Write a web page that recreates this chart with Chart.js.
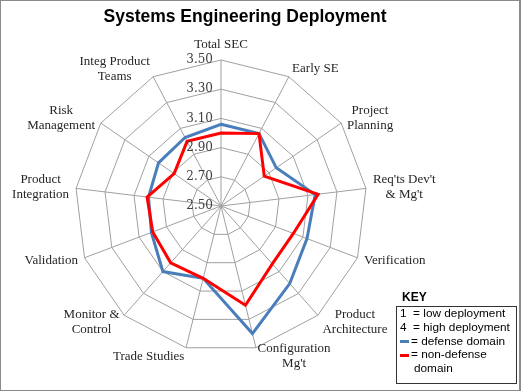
<!DOCTYPE html>
<html>
<head>
<meta charset="utf-8">
<script src="https://cdn.jsdelivr.net/npm/chart.js@4/dist/chart.umd.min.js"></script>
<style>
  body { margin: 0; background: #fff; }
  #frame { position: relative; width: 521px; height: 391px; box-sizing: border-box; border: 1px solid #8a8a8a; border-right-width: 2px; overflow: hidden; background: #fff; }
  #chartBox { position: absolute; left: 0; top: 0; width: 518px; height: 389px; }
  #title { position: absolute; left: 0; width: 488px; top: 5px; text-align: center; font: bold 17.5px "Liberation Sans", Arial, sans-serif; color: #000; }
  #keyTitle { position: absolute; left: 401px; top: 289px; font: bold 12px "Liberation Sans", Arial, sans-serif; color: #000; }
  #key { position: absolute; left: 395px; top: 305px; width: 121px; height: 78px; box-sizing: border-box; border: 1px solid #333; padding: 0 0 0 3px; font: 11.8px "Liberation Sans", Arial, sans-serif; color: #000; line-height: 13.8px; white-space: nowrap; }
  .sw { display: inline-block; width: 9px; height: 3px; vertical-align: middle; margin-right: 2px; }
</style>
</head>
<body>
<div id="frame">
  <div id="chartBox"><canvas id="radar"></canvas></div>
  <div id="title">Systems Engineering Deployment</div>
  <div id="keyTitle">KEY</div>
  <div id="key">
    <div>1&nbsp; = low deployment</div>
    <div>4&nbsp; = high deployment</div>
    <div><span class="sw" style="background:#4a7ebb"></span>= defense domain</div>
    <div><span class="sw" style="background:#ff0000"></span>= non-defense</div>
    <div style="padding-left:14px">domain</div>
  </div>
</div>
<script>
const categories = [
  "Total SEC",
  "Early SE",
  ["Project", "Planning"],
  ["Req'ts Dev't", "& Mg't"],
  "Verification",
  ["Product", "Architecture"],
  ["Configuration", "Mg't"],
  "Trade Studies",
  ["Monitor &", "Control"],
  "Validation",
  ["Product", "Integration"],
  ["Risk", "Management"],
  ["Integ Product", "Teams"]
];
const defenseValues = [3.06, 3.06, 2.96, 3.15, 3.13, 3.21, 3.40, 3.01, 3.10, 3.01, 3.00, 3.02, 3.03];
const nonDefenseValues = [3.00, 3.06, 2.86, 3.17, 3.03, 3.03, 3.20, 3.01, 3.02, 3.00, 3.01, 2.89, 3.00];
const axisMin = 2.5;
const axisMax = 3.5;
const axisStep = 0.2;

// tick labels sit left of the vertical axis, like the Excel original
const tickLabelsLeft = {
  id: "tickLabelsLeft",
  afterDraw(chart) {
    const s = chart.scales.r;
    const ctx = chart.ctx;
    ctx.save();
    ctx.font = '12px "DejaVu Serif", serif';
    ctx.fillStyle = "#404040";
    ctx.textAlign = "right";
    ctx.textBaseline = "middle";
    s.ticks.forEach((t) => {
      const d = s.getDistanceFromCenterForValue(t.value);
      ctx.fillText(t.value.toFixed(2), s.xCenter - 8, s.yCenter - d);
    });
    ctx.restore();
  },
};

// category labels: centred lines, box placed beside the outer vertex (Excel style)
const pointLabelsExcel = {
  id: "pointLabelsExcel",
  afterDraw(chart) {
    const s = chart.scales.r;
    const ctx = chart.ctx;
    const lh = 15;
    ctx.save();
    ctx.font = '13px "Liberation Serif", serif';
    ctx.fillStyle = "#262626";
    ctx.textAlign = "center";
    ctx.textBaseline = "middle";
    chart.data.labels.forEach((lbl, i) => {
      const lines = [].concat(lbl);
      const w = Math.max(...lines.map((l) => ctx.measureText(l).width));
      const h = lines.length * lh;
      const a = s.getIndexAngle(i);
      const sin = Math.sin(a);
      const cos = Math.cos(a);
      const p = s.getPointPosition(i, s.drawingArea);
      let cx, cy;
      if (Math.abs(sin) < 0.1) {
        cx = p.x;
        cy = cos > 0 ? p.y - 8 - h / 2 : p.y + 8 + h / 2;
      } else {
        cx = p.x + 7 * sin + Math.sign(sin) * w / 2;
        cy = p.y - cos * 9;
      }
      lines.forEach((l, j) => ctx.fillText(l, cx, cy - h / 2 + lh * (j + 0.5)));
    });
    ctx.restore();
  },
};

const ctx = document.getElementById("radar");
new Chart(ctx, {
  type: "radar",
  data: {
    labels: categories,
    datasets: [
      {
        label: "non-defense domain",
        data: nonDefenseValues,
        borderColor: "#ff0000",
        borderWidth: 3,
        fill: false,
        pointRadius: 0,
        tension: 0,
        order: 0,
      },
      {
        label: "defense domain",
        data: defenseValues,
        borderColor: "#4a7ebb",
        borderWidth: 3,
        fill: false,
        pointRadius: 0,
        tension: 0,
        order: 1,
      },
    ],
  },
  options: {
    responsive: true,
    maintainAspectRatio: false,
    animation: false,
    layout: { padding: { left: 74, right: 152, top: 59, bottom: 38 } },
    plugins: {
      legend: { display: false },
      tooltip: { enabled: false },
    },
    scales: {
      r: {
        min: axisMin,
        max: axisMax,
        beginAtZero: true,
        ticks: { stepSize: axisStep, display: false },
        grid: { color: "#a0a0a0", lineWidth: 1 },
        angleLines: { color: "#a0a0a0", lineWidth: 1 },
        pointLabels: { display: false },
      },
    },
  },
  plugins: [tickLabelsLeft, pointLabelsExcel],
});
</script>
</body>
</html>
